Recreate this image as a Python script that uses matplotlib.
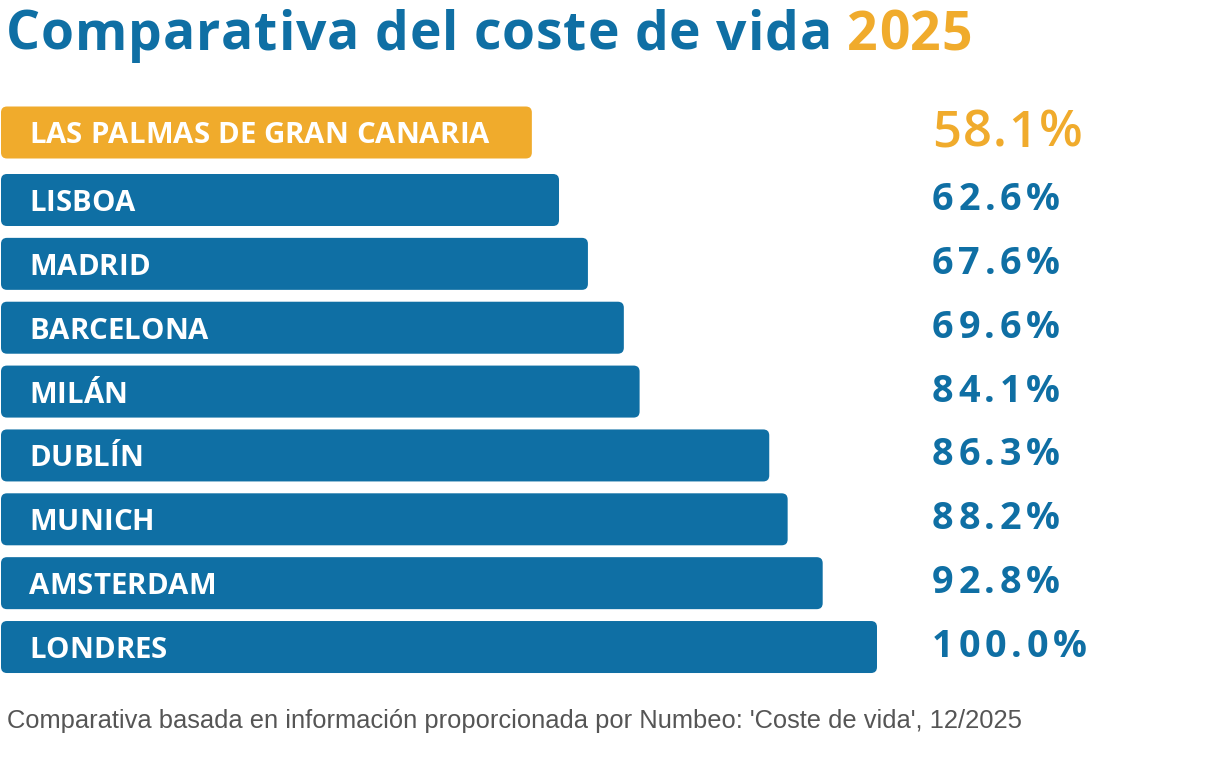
import numpy as np
import matplotlib
matplotlib.use('Agg')
import matplotlib.pyplot as plt
from matplotlib.patches import FancyBboxPatch
from matplotlib.font_manager import FontProperties
from matplotlib.transforms import IdentityTransform

# datos
ciudades = ['LAS PALMAS DE GRAN CANARIA', 'LISBOA', 'MADRID', 'BARCELONA', 'MILÁN',
            'DUBLÍN', 'MUNICH', 'AMSTERDAM', 'LONDRES']
valores = ['58.1%', '62.6%', '67.6%', '69.6%', '84.1%', '86.3%', '88.2%', '92.8%', '100.0%']
# largo dibujado de cada barra (Londres = 100)
largo_barra = [60.6, 63.7, 67.0, 71.1, 72.9, 87.7, 89.8, 93.8, 100.0]

titulo = 'Comparativa del coste de vida '
titulo_anio = '2025'
fuente = "Comparativa basada en información proporcionada por Numbeo: 'Coste de vida', 12/2025"

AZUL = '#0f6fa4'
NARANJA = '#f0ab2c'
GRIS = '#555555'

W, H = 1217, 769
fig = plt.figure(figsize=(W / 100, H / 100), dpi=100)
fig.patch.set_facecolor('white')
renderer = fig.canvas.get_renderer()

# ejes de las barras: 0..100 ocupa de x=1px a x=877px
pitch = 63.86
y_top = 132.5
ax = fig.add_axes([1 / W, 0, 876 / W, 1])
ax.set_xlim(0, 100)
ax.set_ylim((H - y_top) / pitch, -y_top / pitch)
ax.axis('off')

n = len(ciudades)
ypos = np.arange(n) + np.where(np.arange(n) > 0, 0.057, 0.0)
alto = 52 / pitch
px_x = 8.76  # px por unidad x
radio = 6 / px_x

for i in range(n):
    color = NARANJA if i == 0 else AZUL
    p = FancyBboxPatch((0, ypos[i] - alto / 2), largo_barra[i], alto,
                       boxstyle='round,pad=0,rounding_size=%f' % radio,
                       mutation_aspect=px_x / pitch,
                       facecolor=color, edgecolor='none')
    ax.add_patch(p)


def ancho(t, prop):
    return renderer.get_text_width_height_descent(t, prop, ismath=False)[0]


def anchos(s, prop):
    sp = ancho('a a', prop) - ancho('aa', prop)
    return [sp if c == ' ' else ancho(c, prop) for c in s]


def track_para(s, prop, width):
    return (width - sum(anchos(s, prop))) / (len(s) - 1)


def tracked(x, y, s, prop, color, track=0.0):
    # texto con espaciado entre letras, en pixeles de pantalla
    for c, cw in zip(s, anchos(s, prop)):
        if c != ' ':
            fig.text(x, y, c, fontproperties=prop, color=color,
                     transform=IdentityTransform(), ha='left', va='baseline')
        x += cw + track
    return x


# titulo
p_tit = FontProperties(family='Open Sans', weight='bold', size=38.5)
tr = track_para(titulo + titulo_anio, p_tit, 966)
xe = tracked(6, H - 50, titulo, p_tit, AZUL, track=tr)
tracked(xe, H - 50, titulo_anio, p_tit, NARANJA, track=tr)

# etiquetas de las barras y valores
p_lab = FontProperties(family='Open Sans', weight='bold', size=21.2)
p_val = FontProperties(family='Open Sans', weight='bold', size=27.2)
p_val0 = FontProperties(family='Open Sans', weight='semibold', size=36.5)
tr_lab = track_para(ciudades[0], p_lab, 460)
tr_val = track_para(valores[1], p_val, 128)
tr_val0 = track_para(valores[0], p_val0, 151)

for i in range(n):
    cy = ax.transData.transform((0, ypos[i]))[1]
    tracked(29, cy - 11, ciudades[i], p_lab, 'white', track=tr_lab)
    if i == 0:
        tracked(932, cy - 14.5, valores[i], p_val0, NARANJA, track=tr_val0)
    else:
        tracked(932, cy - 10, valores[i], p_val, AZUL, track=tr_val)

# nota al pie
p_pie = FontProperties(family='Liberation Sans', size=18.4)
fig.text(7, H - 728, fuente, fontproperties=p_pie, color=GRIS,
         transform=IdentityTransform(), ha='left', va='baseline')

fig.savefig('out.png', dpi=100, facecolor='white')
